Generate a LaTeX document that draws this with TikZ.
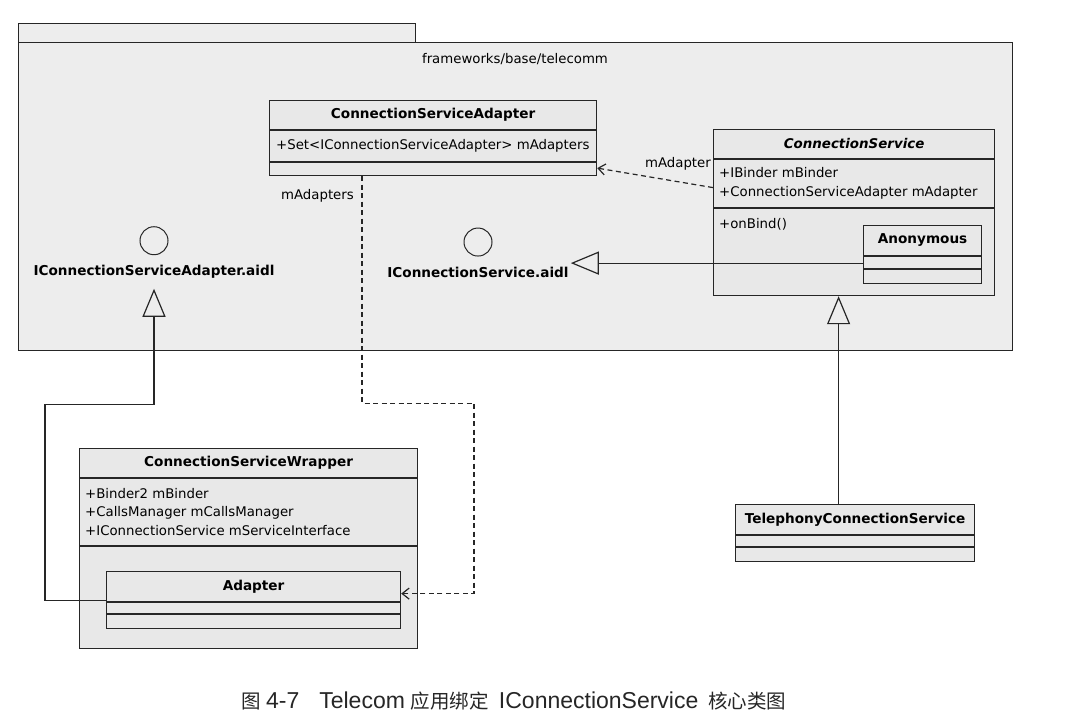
\documentclass[tikz,border=0pt]{standalone}
\usepackage{fontspec}
\setmainfont{DejaVu Sans}
\newfontfamily\captionlatin{Liberation Sans}
\newfontfamily\captioncjk{Noto Sans CJK SC}
\usetikzlibrary{
    arrows.meta,
    positioning
}

\begin{document}
\begin{tikzpicture}
    [x=1pt,y=-1pt,
    % Styles
    package/.style={draw=linecolor,fill=packagecolor,line width=1.2pt,anchor=north west,inner sep=0pt},
    class box/.style={draw=linecolor,fill=classcolor,line width=1.2pt,anchor=north west,inner sep=0pt},
    class name/.style={inner sep=0pt,font=\fontsize{13.6}{16}\selectfont\bfseries},
    members/.style={anchor=west,inner sep=0pt,align=left,font=\fontsize{13.3}{18.5}\selectfont},
    role/.style={inner sep=0pt,font=\fontsize{13.3}{16}\selectfont},
    interface/.style={inner xsep=2pt,inner ysep=0pt,font=\fontsize{13.6}{16}\selectfont\bfseries},
    ball/.style={draw=linecolor,circle,minimum size=28pt,inner sep=0pt,line width=1pt},
    realization/.style={draw=linecolor,line width=1.2pt,
        -{Triangle[open,length=28pt,width=23pt,line width=1.2pt]}},
    dependency/.style={draw=linecolor,line width=1.2pt,dash pattern=on 5pt off 3.5pt,
        -{Straight Barb[length=7pt,width=11pt,line width=1.2pt]}},
    figure caption/.style={inner sep=0pt,text=captioncolor,font=\captionlatin\fontsize{23}{25}\selectfont}]

    % Colors
    \colorlet{linecolor}{black!85}
    \colorlet{packagecolor}{black!7}
    \colorlet{classcolor}{black!9}
    \colorlet{captioncolor}{black!85}

    \fill[white] (0,0) rectangle (1077,728);
    \useasboundingbox (0,0) rectangle (1077,728);

    % The package
    \node[package,minimum width=397pt,minimum height=19pt] (pkg-tab) at (18,23) {};
    \node[package,minimum width=994pt,minimum height=308pt] (pkg) at (18,42) {};
    \node[role] (pkg-name) at (515,59) {frameworks/base/telecomm};

    % The classes
    \node[class box,minimum width=327pt,minimum height=75pt] (csa) at (269,100) {};
    \node[class box,minimum width=281pt,minimum height=166pt] (cs) at (713,129) {};
    \node[class box,minimum width=118pt,minimum height=58pt] (anon) at (863,225) {};
    \node[class box,minimum width=239pt,minimum height=57pt] (tcs) at (735,504) {};
    \node[class box,minimum width=338pt,minimum height=200pt] (csw) at (79,448) {};
    \node[class box,minimum width=294pt,minimum height=57pt] (adapter) at (106,571) {};

    \foreach \cls/\first/\second in {csa/30/62, cs/30/79, anon/31/44, tcs/31/43, csw/30/98, adapter/31/43}
    {
        \draw[linecolor,line width=1.2pt] ([yshift=-\first pt]\cls.north west) -- ([yshift=-\first pt]\cls.north east);
        \draw[linecolor,line width=1.2pt] ([yshift=-\second pt]\cls.north west) -- ([yshift=-\second pt]\cls.north east);
    }

    \node[class name] (csa-name) at ([yshift=-15pt]csa.north) {ConnectionServiceAdapter};
    \node[class name,font=\fontsize{13.4}{16}\selectfont\bfseries\itshape] (cs-name) at ([yshift=-15pt]cs.north) {ConnectionService};
    \node[class name] (anon-name) at ([yshift=-15.5pt]anon.north) {Anonymous};
    \node[class name] (tcs-name) at ([yshift=-15.5pt]tcs.north) {TelephonyConnectionService};
    \node[class name] (csw-name) at ([yshift=-15pt]csw.north) {ConnectionServiceWrapper};
    \node[class name] (adapter-name) at ([yshift=-15.5pt]adapter.north) {Adapter};

    \node[members] (csa-attrs) at ([xshift=7pt,yshift=-46pt]csa.north west) {+Set<IConnectionServiceAdapter> mAdapters};
    \node[members] (cs-attrs) at ([xshift=6pt,yshift=-54.5pt]cs.north west) {+IBinder mBinder\\+ConnectionServiceAdapter mAdapter};
    \node[members] (cs-ops) at ([xshift=6pt,yshift=-95pt]cs.north west) {+onBind()};
    \node[members] (csw-attrs) at ([xshift=6pt,yshift=-64pt]csw.north west) {+Binder2 mBinder\\+CallsManager mCallsManager\\+IConnectionService mServiceInterface};

    % The interfaces
    \node[interface] (icsa) at (154,272) {IConnectionServiceAdapter.aidl};
    \node[ball,above=10pt of icsa] (icsa-ball) {};
    \node[interface] (ics) at (478,272) {IConnectionService.aidl};
    \node[ball,above=10pt of ics] (ics-ball) {};

    % Realizations
    \draw[realization] (adapter.west) -- ++(-61,0) -- ++(0,-196) -| ([yshift=-10pt]icsa.south);
    \draw[realization] ([yshift=-8.5pt]anon.west) -- ([yshift=-8.5pt]anon.west -| ics.east);
    \draw[realization] ([xshift=-16.5pt]tcs.north) -- ([xshift=-16.5pt]tcs.north |- cs.south);

    % Dependencies
    \draw[dependency] ([yshift=25pt]cs.west) -- ([yshift=-30pt]csa.east);
    \node[role,anchor=east] (cs-role) at ([xshift=-2pt,yshift=49pt]cs.west) {mAdapter};
    \draw[dependency] ([xshift=93pt]csa.south west) -- ++(0,227) -- ++(112,0) |- ([yshift=6.5pt]adapter.east);
    \node[role,anchor=east] (csa-role) at ([xshift=85pt,yshift=-20pt]csa.south west) {mAdapters};

    % Caption
    \node[figure caption] (caption) at (514,701)
        {{\captioncjk\fontsize{19.5}{22}\selectfont 图}\hspace{5pt}4-7\hspace{20pt}Telecom\hspace{6pt}{\captioncjk\fontsize{19.5}{22}\selectfont 应用绑定}\hspace{10pt}IConnectionService\hspace{10pt}{\captioncjk\fontsize{19.5}{22}\selectfont 核心类图}};
\end{tikzpicture}
\end{document}
